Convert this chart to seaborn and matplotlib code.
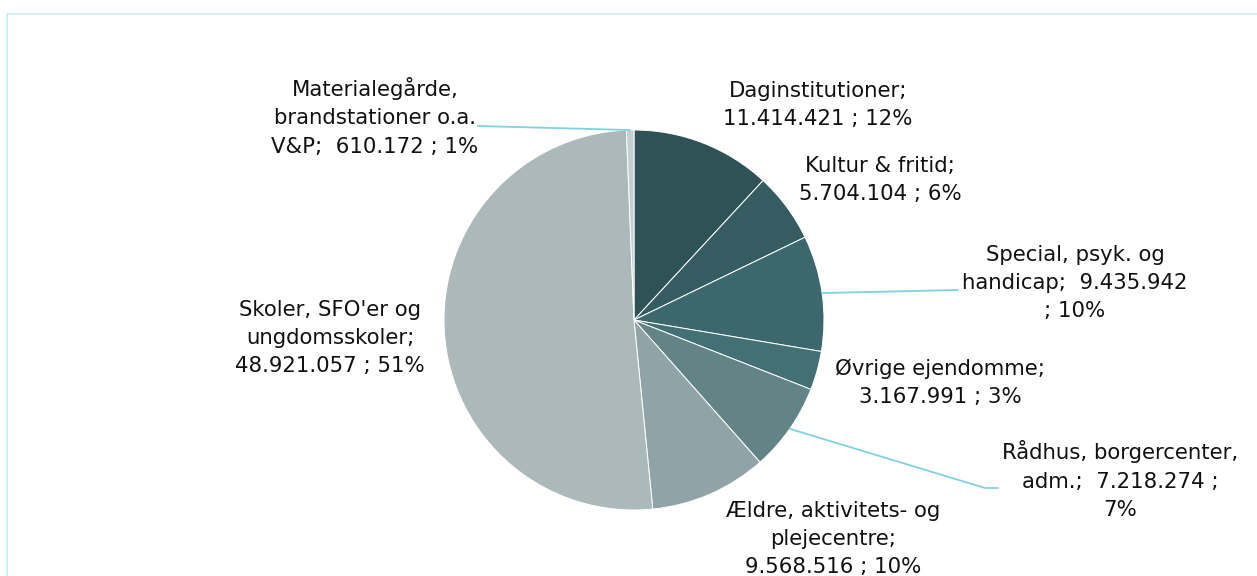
import numpy as np
import matplotlib
matplotlib.use("Agg")
import matplotlib.pyplot as plt
import seaborn as sns
from matplotlib.patches import Rectangle

categories = [
    "Daginstitutioner",
    "Kultur & fritid",
    "Special, psyk. og handicap",
    "Øvrige ejendomme",
    "Rådhus, borgercenter, adm.",
    "Ældre, aktivitets- og plejecentre",
    "Skoler, SFO'er og ungdomsskoler",
    "Materialegårde, brandstationer o.a. V&P",
]
values = [11414421, 5704104, 9435942, 3167991, 7218274, 9568516, 48921057, 610172]
percents = ["12%", "6%", "10%", "3%", "7%", "10%", "51%", "1%"]
value_labels = ["11.414.421", "5.704.104", "9.435.942", "3.167.991",
                "7.218.274", "9.568.516", "48.921.057", "610.172"]
slice_colors = ["#2f5256", "#355c60", "#3c686d", "#427075",
                "#638487", "#90a3a6", "#acb9ba", "#c6cecf"]

label_texts = [
    "Daginstitutioner;\n" + value_labels[0] + " ; " + percents[0],
    "Kultur & fritid;\n" + value_labels[1] + " ; " + percents[1],
    "Special, psyk. og\nhandicap;  " + value_labels[2] + "\n; " + percents[2],
    "Øvrige ejendomme;\n" + value_labels[3] + " ; " + percents[3],
    "Rådhus, borgercenter,\nadm.;  " + value_labels[4] + " ;\n" + percents[4],
    "Ældre, aktivitets- og\nplejecentre;\n" + value_labels[5] + " ; " + percents[5],
    "Skoler, SFO'er og\nungdomsskoler;\n" + value_labels[6] + " ; " + percents[6],
    "Materialegårde,\nbrandstationer o.a.\nV&P;  " + value_labels[7] + " ; " + percents[7],
]
# label centres in pixel space (x, y from top)
label_pos = [(818, 105), (880, 180), (1075, 283), (940, 383),
             (1120, 480), (833, 539), (330, 338), (375, 117)]

W, H = 1257, 576
sns.set_style("white")
plt.rcParams["font.family"] = ["DejaVu Sans"]

fig = plt.figure(figsize=(W / 100, H / 100), dpi=100)
ax = fig.add_axes([0, 0, 1, 1])

cx, cy, r = 634, H - 320, 190
wedges, _ = ax.pie(values, colors=slice_colors, startangle=90, counterclock=False,
                   center=(cx, cy), radius=r, frame=True,
                   wedgeprops=dict(edgecolor="white", linewidth=0.7))
ax.set_xlim(0, W)
ax.set_ylim(0, H)
ax.set_aspect("equal")
ax.axis("off")

for txt, (px, py) in zip(label_texts, label_pos):
    ax.text(px, H - py, txt, ha="center", va="center", fontsize=15.3,
            color="#111111", linespacing=1.52)

# leader lines
line_col = "#7fd3df"
def anchor(i):
    w = wedges[i]
    mid = np.deg2rad((w.theta1 + w.theta2) / 2)
    return cx + r * np.cos(mid), cy + r * np.sin(mid)

a7 = anchor(7)
ax.plot([478, a7[0]], [H - 126, a7[1]], color=line_col, lw=1.3)
a2 = anchor(2)
ax.plot([a2[0], 958], [a2[1], H - 290], color=line_col, lw=1.3)
a4 = anchor(4)
ax.plot([a4[0], 985, 998], [a4[1], H - 488, H - 488], color=line_col, lw=1.3)

# chart frame
ax.add_patch(Rectangle((7, -10), W + 20, H - 14 + 10, fill=False,
                       edgecolor="#c8eef2", lw=1.2, clip_on=False))

fig.savefig("out.png", dpi=100)
